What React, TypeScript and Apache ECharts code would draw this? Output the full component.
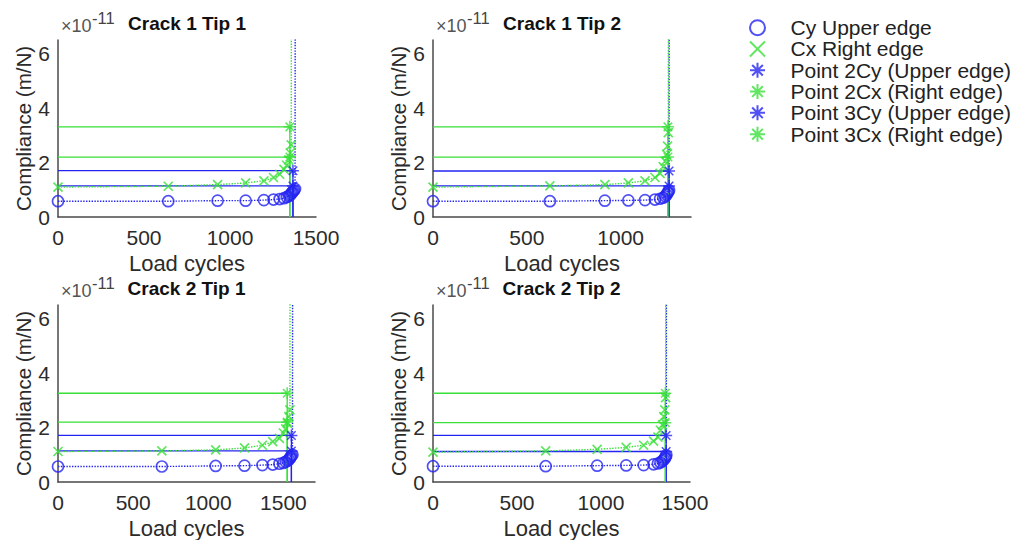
import React, { useEffect, useRef } from "react";
import * as echarts from "echarts";

// ---------- DATA (compliance values in units of 1e-11 m/N) ----------
const PANEL_TITLES = ["Crack 1 Tip 1", "Crack 1 Tip 2", "Crack 2 Tip 1", "Crack 2 Tip 2"];
const X_MAX = [1500, 1375, 1710, 1530];
const Y_MAX = 6.5;
const SERIES_NAMES = [
  "Cy Upper edge",
  "Cx Right edge",
  "Point 2Cy (Upper edge)",
  "Point 2Cx (Right edge)",
  "Point 3Cy (Upper edge)",
  "Point 3Cx (Right edge)",
];

// Crack 1 Tip 1
const C1T1_CYCLES = [0, 641, 928, 1091, 1197, 1253, 1289, 1314, 1330, 1342, 1350, 1356, 1361, 1366, 1372, 1378, 1385, 1388];
const C1T1_CY = [0.58, 0.58, 0.6, 0.6, 0.62, 0.64, 0.66, 0.69, 0.73, 0.77, 0.81, 0.85, 0.9, 0.94, 0.98, 1.03, 40, 80];
const C1T1_CX = [1.1, 1.13, 1.19, 1.25, 1.33, 1.45, 1.57, 1.75, 1.9, 2.1, 2.35, 2.65, 40, null, null, null, null, null];
const C1T1_PX = [1366, 1348, 1366, 1348]; // cycles of points 2Cy, 2Cx, 3Cy, 3Cx
const C1T1_PY = [1.14, 2.2, 1.7, 3.31];

// Crack 1 Tip 2
const C1T2_CYCLES = [0, 623, 916, 1041, 1130, 1183, 1210, 1227, 1238, 1245, 1250, 1254, 1258, 1262, 1266];
const C1T2_CY = [0.58, 0.58, 0.6, 0.61, 0.62, 0.64, 0.67, 0.71, 0.76, 0.82, 0.88, 0.93, 0.98, 40, 80];
const C1T2_CX = [1.1, 1.14, 1.19, 1.25, 1.33, 1.45, 1.6, 1.85, 2.05, 2.3, 2.6, 3.1, 40, null, null];
const C1T2_PX = [1258, 1252, 1258, 1252];
const C1T2_PY = [1.14, 2.2, 1.69, 3.31];

// Crack 2 Tip 1
const C2T1_CYCLES = [0, 691, 1049, 1241, 1360, 1429, 1473, 1500, 1515, 1527, 1536, 1543, 1548, 1553, 1560, 1566, 1572];
const C2T1_CY = [0.57, 0.57, 0.59, 0.6, 0.62, 0.64, 0.67, 0.7, 0.74, 0.78, 0.82, 0.87, 0.92, 0.96, 1.0, 40, 80];
const C2T1_CX = [1.12, 1.14, 1.18, 1.25, 1.35, 1.48, 1.6, 1.8, 1.95, 2.15, 2.4, 2.65, 40, null, null, null, null];
const C2T1_PX = [1553, 1525, 1553, 1525];
const C2T1_PY = [1.14, 2.2, 1.71, 3.26];

// Crack 2 Tip 2
const C2T2_CYCLES = [0, 671, 977, 1150, 1254, 1313, 1339, 1354, 1366, 1374, 1380, 1385, 1389, 1393, 1397];
const C2T2_CY = [0.58, 0.58, 0.6, 0.61, 0.62, 0.65, 0.68, 0.72, 0.77, 0.82, 0.87, 0.92, 0.98, 40, 80];
const C2T2_CX = [1.1, 1.14, 1.2, 1.27, 1.35, 1.5, 1.65, 1.9, 2.1, 2.4, 2.65, 3.1, 40, null, null];
const C2T2_PX = [1388, 1383, 1388, 1383];
const C2T2_PY = [1.12, 2.18, 1.71, 3.26];

const PANELS = [
  { cycles: C1T1_CYCLES, cy: C1T1_CY, cx: C1T1_CX, px: C1T1_PX, py: C1T1_PY },
  { cycles: C1T2_CYCLES, cy: C1T2_CY, cx: C1T2_CX, px: C1T2_PX, py: C1T2_PY },
  { cycles: C2T1_CYCLES, cy: C2T1_CY, cx: C2T1_CX, px: C2T1_PX, py: C2T1_PY },
  { cycles: C2T2_CYCLES, cy: C2T2_CY, cx: C2T2_CX, px: C2T2_PX, py: C2T2_PY },
];

// ---------- STYLE ----------
const BLUE = "#2424f2";
const GREEN = "#38e038";
const POINT_COLORS = [BLUE, GREEN, BLUE, GREEN];
const GRIDS = [
  { left: 58, top: 40, width: 258, height: 177 },
  { left: 433, top: 40, width: 258, height: 177 },
  { left: 58, top: 305, width: 257, height: 177 },
  { left: 433, top: 305, width: 257, height: 177 },
];
const CIRCLE = "path://M10,5A5,5,0,1,1,0,5A5,5,0,1,1,10,5Z";
const CROSS = "path://M0,0L10,10M10,0L0,10";
const STAR = "path://M5,0L5,10M0,5L10,5M1.46,1.46L8.54,8.54M8.54,1.46L1.46,8.54";
const FONT = "Liberation Sans, Arial, sans-serif";
const TEXT = "#2b2b2b";

function pairs(xs: number[], ys: (number | null)[]) {
  const out: number[][] = [];
  xs.forEach((x, i) => {
    const y = ys[i];
    if (y !== null && y !== undefined) out.push([x, y]);
  });
  return out;
}

function buildOption() {
  const series: any[] = [];
  const xAxis: any[] = [];
  const yAxis: any[] = [];
  const graphic: any[] = [];

  PANELS.forEach((p, i) => {
    const g = GRIDS[i];
    xAxis.push({
      type: "value",
      gridIndex: i,
      min: 0,
      max: X_MAX[i],
      interval: 500,
      name: "Load cycles",
      nameLocation: "middle",
      nameGap: 35,
      nameTextStyle: { fontSize: 22, color: TEXT, fontFamily: FONT },
      axisLine: { show: true, onZero: false, lineStyle: { color: "#4a4a4a", width: 1.5 } },
      axisTick: { show: false },
      splitLine: { show: false },
      axisLabel: {
        fontSize: 21,
        color: TEXT,
        fontFamily: FONT,
        margin: 10,
        formatter: (v: number) => (v % 500 === 0 ? String(v) : ""),
      },
    });
    yAxis.push({
      type: "value",
      gridIndex: i,
      min: 0,
      max: Y_MAX,
      interval: 2,
      name: "Compliance (m/N)",
      nameLocation: "middle",
      nameGap: 17,
      nameTextStyle: { fontSize: 20.5, color: TEXT, fontFamily: FONT },
      axisLine: { show: true, onZero: false, lineStyle: { color: "#4a4a4a", width: 1.5 } },
      axisTick: { show: false },
      splitLine: { show: false },
      axisLabel: {
        fontSize: 21,
        color: TEXT,
        fontFamily: FONT,
        margin: 8,
        formatter: (v: number) => (v % 2 === 0 ? String(v) : ""),
      },
    });

    // title
    graphic.push({
      type: "text",
      x: g.left + g.width / 2,
      y: g.top - 17,
      style: {
        text: PANEL_TITLES[i],
        fontSize: 19,
        fontWeight: "bold",
        fontFamily: FONT,
        fill: "#111",
        align: "center",
        verticalAlign: "middle",
      },
    });
    // exponent label
    graphic.push({
      type: "text",
      x: g.left + 3,
      y: g.top - 14,
      style: { text: "×10", fontSize: 18, fontFamily: FONT, fill: "#555", align: "left", verticalAlign: "middle" },
    });
    graphic.push({
      type: "text",
      x: g.left + 34,
      y: g.top - 22,
      style: { text: "-11", fontSize: 16.5, fontFamily: FONT, fill: "#444", align: "left", verticalAlign: "middle" },
    });

    // guide lines for points 2/3
    p.px.forEach((x, k) => {
      series.push({
        type: "line",
        xAxisIndex: i,
        yAxisIndex: i,
        data: [[0, p.py[k]], [x, p.py[k]], [x, 0]],
        symbol: "none",
        silent: true,
        z: 1,
        lineStyle: { color: POINT_COLORS[k], width: 1.3, type: "solid" },
      });
    });

    // dotted curves
    series.push({
      type: "line",
      xAxisIndex: i,
      yAxisIndex: i,
      data: pairs(p.cycles, p.cy),
      symbol: "none",
      silent: true,
      z: 2,
      lineStyle: { color: BLUE, width: 1.4, type: "dotted" },
    });
    series.push({
      type: "line",
      xAxisIndex: i,
      yAxisIndex: i,
      data: pairs(p.cycles, p.cx),
      symbol: "none",
      silent: true,
      z: 2,
      lineStyle: { color: GREEN, width: 1.4, type: "dotted" },
    });

    // markers
    series.push({
      type: "scatter",
      name: SERIES_NAMES[0],
      xAxisIndex: i,
      yAxisIndex: i,
      data: pairs(p.cycles, p.cy),
      symbol: CIRCLE,
      symbolSize: 11,
      z: 3,
      itemStyle: { color: "transparent", borderColor: BLUE, borderWidth: 1.7 },
    });
    series.push({
      type: "scatter",
      name: SERIES_NAMES[1],
      xAxisIndex: i,
      yAxisIndex: i,
      data: pairs(p.cycles, p.cx),
      symbol: CROSS,
      symbolSize: 9,
      z: 3,
      itemStyle: { color: "transparent", borderColor: GREEN, borderWidth: 1.7 },
    });
    p.px.forEach((x, k) => {
      series.push({
        type: "scatter",
        name: SERIES_NAMES[2 + k],
        xAxisIndex: i,
        yAxisIndex: i,
        data: [[x, p.py[k]]],
        symbol: STAR,
        symbolSize: 12,
        z: 4,
        itemStyle: { color: "transparent", borderColor: POINT_COLORS[k], borderWidth: 1.5 },
      });
    });
  });

  const legendIcons = [CIRCLE, CROSS, STAR, STAR, STAR, STAR];
  const legendColors = [BLUE, GREEN, BLUE, GREEN, BLUE, GREEN];

  return {
    animation: false,
    backgroundColor: "#ffffff",
    grid: GRIDS.map((g) => ({ ...g, containLabel: false })),
    xAxis,
    yAxis,
    legend: {
      orient: "vertical",
      left: 749,
      top: 17,
      itemWidth: 56,
      itemHeight: 15,
      itemGap: 0,
      padding: 0,
      symbolKeepAspect: true,
      selectedMode: false,
      textStyle: { fontSize: 21, lineHeight: 21.3, color: "#222", fontFamily: FONT },
      data: SERIES_NAMES.map((n, k) => ({
        name: n,
        icon: legendIcons[k],
        itemStyle: { color: "transparent", borderColor: legendColors[k], borderWidth: 2 },
      })),
    },
    graphic,
    series,
  };
}

export default function App() {
  const ref = useRef<HTMLDivElement>(null);
  useEffect(() => {
    if (!ref.current) return;
    const chart = echarts.init(ref.current, undefined, { renderer: "svg" });
    chart.setOption(buildOption() as any);
    return () => chart.dispose();
  }, []);
  return (
    <div
      ref={ref}
      style={{ position: "fixed", left: 0, top: 0, width: 1026, height: 540, background: "#fff" }}
    />
  );
}
